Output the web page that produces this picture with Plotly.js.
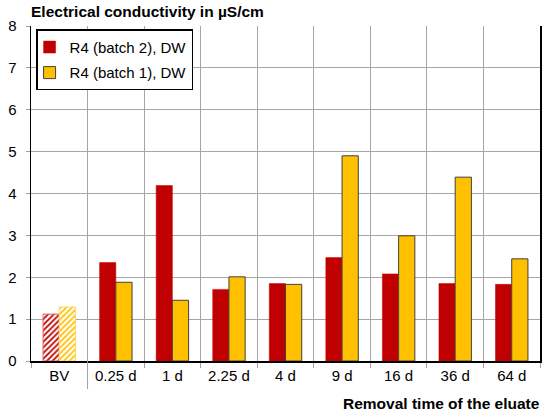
<!DOCTYPE html>
<html>
<head>
<meta charset="utf-8">
<script src="https://cdn.plot.ly/plotly-3.0.1.min.js"></script>
<style>html,body{margin:0;padding:0;background:#fff;}#chart{width:550px;height:417px;}</style>
</head>
<body>
<div id="chart"></div>
<script>
const categories = ["BV", "0.25 d", "1 d", "2.25 d", "4 d", "9 d", "16 d", "36 d", "64 d"];
const batch2Values = [1.12, 2.35, 4.19, 1.71, 1.85, 2.47, 2.08, 1.85, 1.83];
const batch1Values = [1.29, 1.88, 1.45, 2.01, 1.83, 4.90, 2.99, 4.39, 2.44];
const seriesNames = ["R4 (batch 2), DW", "R4 (batch 1), DW"];
const yTickValues = [0, 1, 2, 3, 4, 5, 6, 7, 8];
const yTitle = "Electrical conductivity in µS/cm";
const xTitle = "Removal time of the eluate";

const RED = "#C00000", YEL = "#FFC000";
const FONT = "Arial, 'Liberation Sans', sans-serif";

const traces = [
  {
    type: "bar", name: seriesNames[0], x: categories.slice(1), y: batch2Values.slice(1),
    offsetgroup: "g1", legendgroup: "a",
    marker: {color: RED, line: {color: RED, width: 0.5}}
  },
  {
    type: "bar", name: seriesNames[1], x: categories.slice(1), y: batch1Values.slice(1),
    offsetgroup: "g2", legendgroup: "b",
    marker: {color: YEL, line: {color: "#404040", width: 1}}
  },
  {
    type: "bar", name: seriesNames[0], x: categories.slice(0, 1), y: batch2Values.slice(0, 1),
    offsetgroup: "g1", showlegend: false,
    marker: {color: RED, line: {color: "#E06060", width: 1},
             pattern: {shape: "/", fgcolor: RED, bgcolor: "#ffffff", size: 4, solidity: 0.45, fillmode: "replace"}}
  },
  {
    type: "bar", name: seriesNames[1], x: categories.slice(0, 1), y: batch1Values.slice(0, 1),
    offsetgroup: "g2", showlegend: false,
    marker: {color: YEL, line: {color: "#FFD966", width: 1},
             pattern: {shape: "/", fgcolor: YEL, bgcolor: "#ffffff", size: 4, solidity: 0.45, fillmode: "replace"}}
  }
];

const layout = {
  width: 550, height: 417,
  margin: {l: 31, r: 10, t: 26, b: 56, pad: 0},
  paper_bgcolor: "#ffffff", plot_bgcolor: "#ffffff",
  font: {family: FONT, size: 15, color: "#000"},
  barmode: "group", bargap: 0.426, bargroupgap: 0,
  showlegend: true,
  legend: {
    x: 0.01, y: 0.99, xanchor: "left", yanchor: "top",
    bgcolor: "#ffffff", bordercolor: "#000", borderwidth: 1.5,
    font: {family: FONT, size: 15, color: "#000"},
    traceorder: "grouped", tracegroupgap: 3, itemwidth: 30, indentation: -8
  },
  title: {
    text: "<b>" + yTitle + "</b>",
    font: {family: FONT, size: 15.5, color: "#000"},
    x: 31 / 550, xref: "container", xanchor: "left",
    y: 1 - 12 / 417, yref: "container", yanchor: "middle"
  },
  xaxis: {
    type: "category", categoryorder: "array", categoryarray: categories,
    tickson: "boundaries", ticks: "outside", ticklen: 5, tickcolor: "#A0A0A0", tickwidth: 1,
    showgrid: true, gridcolor: "#A6A6A6", gridwidth: 1,
    showline: true, linecolor: "#000", linewidth: 1.5,
    tickfont: {family: FONT, size: 15, color: "#000"},
    fixedrange: true
  },
  yaxis: {
    range: [0, 8], tickvals: yTickValues,
    ticks: "outside", ticklen: 4, tickcolor: "#A0A0A0", tickwidth: 1,
    showgrid: true, gridcolor: "#A6A6A6", gridwidth: 1, zeroline: false,
    showline: true, linecolor: "#000", linewidth: 1.5, mirror: true,
    ticklabelstandoff: 6,
    tickfont: {family: FONT, size: 15, color: "#000"},
    fixedrange: true
  },
  annotations: [{
    text: "<b>" + xTitle + "</b>",
    xref: "paper", yref: "paper", x: 1, y: 0,
    xanchor: "right", yanchor: "middle", xshift: 2, yshift: -42,
    showarrow: false, font: {family: FONT, size: 15.5, color: "#000"}
  }],
  shapes: [{
    type: "line", xref: "x", yref: "paper", x0: 0.5, x1: 0.5, y0: 0, y1: -28 / 335,
    line: {color: "#A0A0A0", width: 1}
  }]
};

Plotly.newPlot("chart", traces, layout, {displayModeBar: false, staticPlot: true});
</script>
</body>
</html>
